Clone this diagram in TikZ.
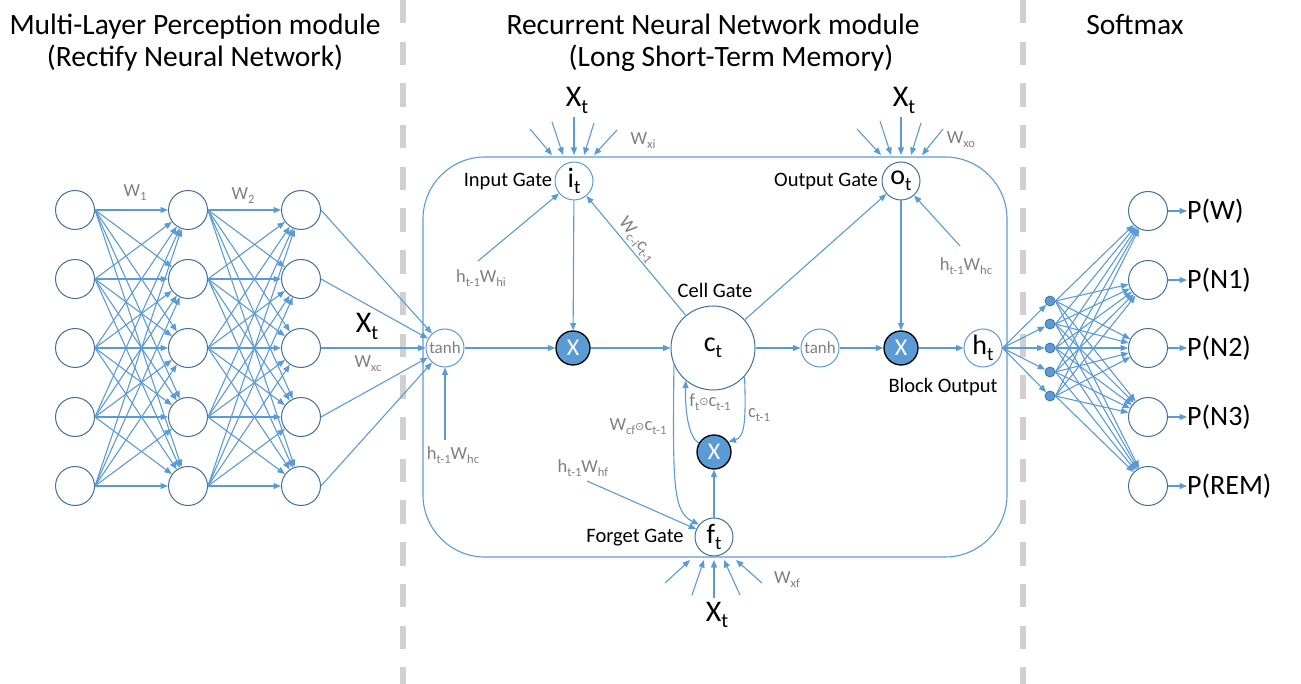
\documentclass[tikz,border=0pt]{standalone}
\usepackage{fontspec}
\setmainfont{Carlito}
\newfontfamily\djv{DejaVu Sans}
\usepackage{graphicx}
\usetikzlibrary{arrows.meta}
\definecolor{lb}{HTML}{5B9BD5}
\definecolor{db}{HTML}{41719C}
\definecolor{gt}{HTML}{7F7F7F}
\definecolor{dg}{HTML}{D0D0D0}
\newcommand\sbs[1]{\raisebox{-0.45ex}{\scalebox{0.68}{#1}}}
\newcommand\odt{\raisebox{0.1ex}{\scalebox{0.6}{\djv ⊙}}}
\begin{document}
\begin{tikzpicture}[x=1pt,y=-1pt,
  arr/.style={draw=lb,line width=1.1pt,-{Triangle[length=7.5pt,width=6pt]}},
  ln/.style={draw=lb,line width=1.1pt},
  neuron/.style={circle,draw=db,line width=1pt,minimum size=39pt,inner sep=0pt,fill=white},
  gate/.style={circle,draw=lb,line width=1pt,minimum size=38pt,inner sep=0pt,fill=white,font=\fontsize{28}{30}\selectfont},
  tnh/.style={circle,draw=lb,line width=1pt,minimum size=38pt,inner sep=0pt,fill=white,text=gt,font=\fontsize{17}{18}\selectfont},
  mult/.style={circle,draw=black,line width=1.3pt,fill=lb,minimum size=34pt,inner sep=0pt,text=white,font=\fontsize{24}{24}\selectfont},
  sdot/.style={circle,draw=db,fill=lb,line width=0.8pt,minimum size=10pt,inner sep=0pt},
  ttl/.style={font=\fontsize{29.5}{34}\selectfont,anchor=base,inner sep=0pt},
  lbl/.style={font=\fontsize{20.5}{22}\selectfont,inner sep=0pt},
  glbl/.style={text=gt,font=\fontsize{18.5}{20}\selectfont,inner sep=0pt},
  big/.style={font=\fontsize{30}{32}\selectfont,inner sep=0pt,anchor=base},
  outl/.style={font=\fontsize{28}{30}\selectfont,anchor=west,inner sep=0pt},
  sep/.style={draw=dg,line width=6.5pt,dash pattern=on 23.4pt off 18.3pt}
]
\useasboundingbox (0,0) rectangle (1301,684);
% separators
\draw[sep] (403,0) -- (403,684);
\draw[sep] (1023,0) -- (1023,684);
% titles
\node[ttl] (ttl1a) at (195,35) {Multi-Layer Perception module};
\node[ttl] (ttl1b) at (195,67) {(Rectify Neural Network)};
\node[ttl] (ttl2a) at (713,35) {Recurrent Neural Network module};
\node[ttl] (ttl2b) at (731,67) {(Long Short-Term Memory)};
\node[ttl] (ttl3) at (1135,35) {Softmax};
% MLP
\foreach \c/\x in {1/75,2/188,3/301}
  \foreach \r/\y in {1/210,2/279,3/348,4/417,5/486}
    \node[neuron] (m\c\r) at (\x,\y) {};
\foreach \a in {1,...,5}
  \foreach \b in {1,...,5} {
    \draw[arr] (m1\a.east) -- (m2\b);
    \draw[arr] (m2\a.east) -- (m3\b);
  }
\node[glbl] (w1) at (135,193) {W\sbs{1}};
\node[glbl] (w2) at (243,196) {W\sbs{2}};
\node[big] (xm) at (367,333) {X\sbs{t}};
\node[glbl] (wxc) at (368,364) {W\sbs{xc}};
% LSTM box
\draw[ln,rounded corners=62pt] (423,157) rectangle (1007,557);
% LSTM nodes
\node[tnh] (th1) at (445,348) {tanh};
\node[mult] (x1) at (573,348) {X};
\node[gate,draw=db,minimum size=84pt] (c) at (713,348) {c\sbs{t}};
\node[tnh] (th2) at (820,348) {tanh};
\node[mult] (x2) at (901,348) {X};
\node[gate] (h) at (983,348) {h\sbs{t}};
\node[gate] (i) at (574,181) {i\sbs{t}};
\node[gate,draw=db] (o) at (901,181) {o\sbs{t}};
\node[gate,draw=db] (f) at (714,537) {f\sbs{t}};
\node[mult] (x3) at (714,452) {X};
% MLP to tanh
\foreach \r in {1,...,5} \draw[arr] (m3\r.east) -- (th1);
% main flow
\draw[arr] (th1) -- (x1);
\draw[arr] (x1) -- (c);
\draw[arr] (c) -- (th2);
\draw[arr] (th2) -- (x2);
\draw[arr] (x2) -- (h);
\draw[arr] (i) -- (x1);
\draw[arr] (o) -- (x2);
\draw[arr] (f) -- (x3);
\draw[arr] (c) -- (i);
\draw[arr] (c) -- (o);
% curves
\draw[arr] (c.203) .. controls (673,480) and (672,512) .. (f.140);
\draw[arr] (x3.150) .. controls (688,436) and (685,410) .. (c.230);
\draw[arr] (c.318) .. controls (746,420) and (745,437) .. (x3.35);
% labels
\node[lbl] (lig) at (508,182) {Input Gate};
\node[lbl] (log) at (826,182) {Output Gate};
\node[lbl] (lcg) at (715,290) {Cell Gate};
\node[lbl] (lfg) at (635,538) {Forget Gate};
\node[lbl] (lbo) at (943,387) {Block Output};
\node[glbl] (hi) at (481,278) {h\sbs{t-1}W\sbs{hi}};
\node[glbl] (hc) at (453,455) {h\sbs{t-1}W\sbs{hc}};
\node[glbl] (ho) at (966,266) {h\sbs{t-1}W\sbs{hc}};
\node[glbl] (hf) at (583,468) {h\sbs{t-1}W\sbs{hf}};
\node[glbl,rotate=-52] (wci) at (637,240) {W\sbs{c-i}c\sbs{t-1}};
\node[glbl] (wcf) at (638,427) {W\sbs{cf}\odt c\sbs{t-1}};
\node[glbl] (ftc) at (710,402) {f\sbs{t}\odt c\sbs{t-1}};
\node[glbl] (ctm) at (759,415) {c\sbs{t-1}};
\coordinate (hiS) at (478,261);
\coordinate (hcS) at (445,440);
\coordinate (hoS) at (960,246);
\coordinate (hfS) at (587,481);
\draw[arr] (hiS) -- (i);
\draw[arr] (hcS) -- (th1);
\draw[arr] (hoS) -- (o);
\draw[arr] (hfS) -- (f);
% x_t inputs
\node[big] (xi) at (577,107) {X\sbs{t}};
\node[glbl] (wxi) at (643,141) {W\sbs{xi}};
\node[big] (xo) at (904,107) {X\sbs{t}};
\node[glbl] (wxo) at (961,140) {W\sbs{xo}};
\node[big] (xf) at (717,621) {X\sbs{t}};
\node[glbl] (wxf) at (787,580) {W\sbs{xf}};
\foreach \sx/\sy/\ex/\ey [count=\k] in {530/129/552/155, 552/122/563/155, 574/117/574/155, 594/123/584/155, 617/130/594/155}
  {\coordinate (ia\k) at (\sx,\sy); \coordinate (ib\k) at (\ex,\ey); \draw[arr] (ia\k) -- (ib\k);}
\foreach \sx/\sy/\ex/\ey [count=\k] in {857/129/881/155, 880/121/891/155, 901/117/901/155, 921/123/911/155, 943/129/922/155}
  {\coordinate (oa\k) at (\sx,\sy); \coordinate (ob\k) at (\ex,\ey); \draw[arr] (oa\k) -- (ob\k);}
\foreach \sx/\sy/\ex/\ey [count=\k] in {665/583/690/560, 692/595/704/560, 714/598/714/560, 740/595/724/560, 762/583/736/560}
  {\coordinate (fa\k) at (\sx,\sy); \coordinate (fb\k) at (\ex,\ey); \draw[arr] (fa\k) -- (fb\k);}
% softmax
\foreach \k/\y in {1/301,2/324,3/348,4/372,5/396}
  \node[sdot] (d\k) at (1050,\y) {};
\foreach \k/\y/\t in {1/211/P(W),2/280/P(N1),3/348/P(N2),4/417/P(N3),5/486/P(REM)} {
  \node[neuron] (p\k) at (1148,\y) {};
  \node[outl] (pl\k) at (1187,\y) {\t};
  \draw[arr] (p\k) -- (pl\k.west);
}
\foreach \k in {1,...,5} \draw[arr] (h.east) -- (d\k);
\foreach \a in {1,...,5}
  \foreach \b in {1,...,5}
    \draw[arr] (d\a.east) -- (p\b);
\end{tikzpicture}
\end{document}
